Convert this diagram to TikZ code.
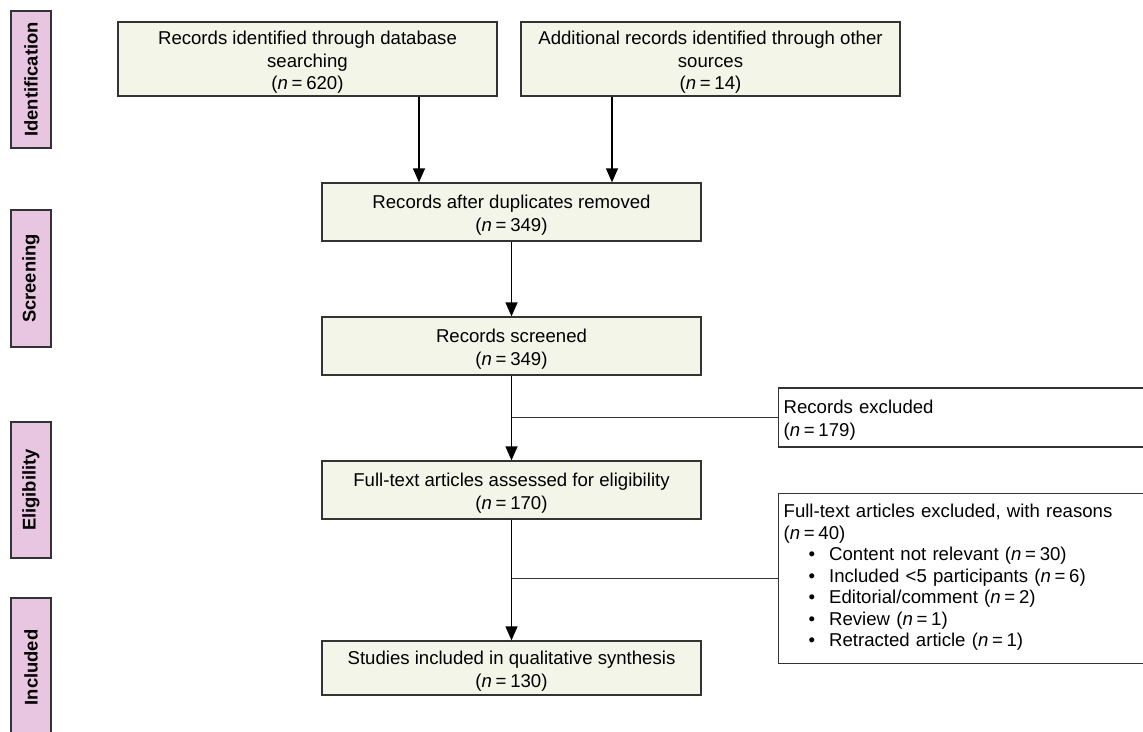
\documentclass[tikz,border=0pt]{standalone}
\usepackage{fontspec}
\setmainfont{Liberation Sans}
\usetikzlibrary{arrows.meta}
\definecolor{boxfill}{HTML}{F3F5E8}
\definecolor{sidefill}{HTML}{E8C6E1}
\definecolor{edge}{HTML}{333333}
\newcommand{\myn}[1]{(\textit{n}\hspace{0.2em}=\hspace{0.2em}#1)}
\newcommand{\fbtext}[1]{\raisebox{-3.5pt}[\height][\depth]{\begin{tabular}{@{}c@{}}#1\end{tabular}}}
\begin{document}
\begin{tikzpicture}[x=1pt,y=-1pt,
  flowbox/.style={draw=edge, line width=1.3pt, fill=boxfill, inner sep=0pt,
    minimum width=379pt, font=\fontsize{18.6}{22.5}\selectfont},
  sidebox/.style={draw=edge, line width=1.3pt, fill=sidefill, inner sep=0pt, rotate=90,
    minimum height=40pt, font=\bfseries\fontsize{18.4}{22}\selectfont},
  exclbox/.style={draw=edge, line width=1.3pt, fill=white, inner xsep=5pt, inner ysep=0pt,
    align=left, text width=362pt, font=\fontsize{18.6}{22.5}\selectfont},
  arr/.style={draw=black, line width=1.3pt, -{Triangle[length=14pt,width=12pt]}},
  link/.style={draw=edge, line width=1.3pt}]
\useasboundingbox (0,0) rectangle (1143,731);

% side labels
\node[sidebox, minimum width=137pt] (sid) at (31,79.5) {Identification};
\node[sidebox, minimum width=137pt] (ssc) at (31,278.5) {Screening};
\node[sidebox, minimum width=136pt] (sel) at (31,490) {Eligibility};
\node[sidebox, minimum width=139pt] (sin) at (31,667.5) {Included};

% main boxes
\node[flowbox, minimum height=74pt] (id1) at (307.5,59)
  {\fbtext{Records identified through database\\searching\\\myn{620}}};
\node[flowbox, minimum height=74pt] (id2) at (710.5,59)
  {\fbtext{Additional records identified through other\\sources\\\myn{14}}};
\node[flowbox, minimum height=58pt] (dup) at (511.5,212)
  {\fbtext{Records after duplicates removed\\\myn{349}}};
\node[flowbox, minimum height=58pt] (scr) at (511.5,346)
  {\fbtext{Records screened\\\myn{349}}};
\node[flowbox, minimum height=58pt] (full) at (511.5,490)
  {\fbtext{Full-text articles assessed for eligibility\\\myn{170}}};
\node[flowbox, minimum height=54pt] (stud) at (511.5,668)
  {\fbtext{Studies included in qualitative synthesis\\\myn{130}}};

% exclusion boxes
\node[exclbox, minimum height=59pt, anchor=west] (ex1) at (778,417.5)
  {\rule{0pt}{18.5pt}Records excluded\\\myn{179}};
\node[exclbox, anchor=north west] (ex2) at (778,493)
  {\parbox[c][170pt][t]{362pt}{\fontsize{18.6}{21.5}\selectfont
   \rule{0pt}{24pt}Full-text articles excluded, with reasons\\
   \myn{40}\\
   \hspace*{25pt}•\hspace{14pt}Content not relevant \myn{30}\\
   \hspace*{25pt}•\hspace{14pt}Included <5 participants \myn{6}\\
   \hspace*{25pt}•\hspace{14pt}Editorial/comment \myn{2}\\
   \hspace*{25pt}•\hspace{14pt}Review \myn{1}\\
   \hspace*{25pt}•\hspace{14pt}Retracted article \myn{1}}};

% connectors
\draw[arr] ([xshift=111.5pt]id1.south) -- ([xshift=-92.5pt]dup.north);
\draw[arr] ([xshift=-98.5pt]id2.south) -- ([xshift=100.5pt]dup.north);
\draw[arr] (dup) -- (scr);
\draw[arr] (scr) -- (full);
\draw[arr] (full) -- (stud);
\draw[link] (scr.south |- ex1.west) -- (ex1.west);
\draw[link] (full.south |- ex2.west) -- (ex2.west);
\end{tikzpicture}
\end{document}
